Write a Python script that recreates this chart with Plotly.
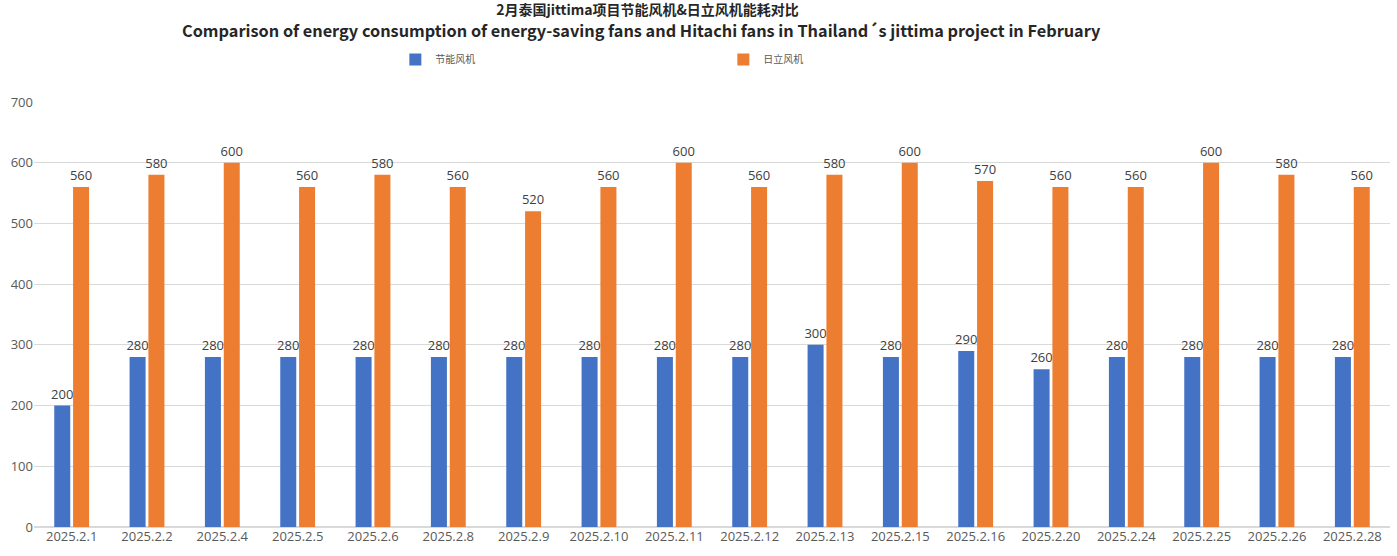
import plotly.graph_objects as go

dates = ["2025.2.1", "2025.2.2", "2025.2.4", "2025.2.5", "2025.2.6", "2025.2.8", "2025.2.9",
         "2025.2.10", "2025.2.11", "2025.2.12", "2025.2.13", "2025.2.15", "2025.2.16",
         "2025.2.20", "2025.2.24", "2025.2.25", "2025.2.26", "2025.2.28"]
saving = [200, 280, 280, 280, 280, 280, 280, 280, 280, 280, 300, 280, 290, 260, 280, 280, 280, 280]
hitachi = [560, 580, 600, 560, 580, 560, 520, 560, 600, 560, 580, 600, 570, 560, 560, 600, 580, 560]

series_names = ["节能风机", "日立风机"]
colors = ["#4472C4", "#ED7D31"]
title_cn = "2月泰国jittima项目节能风机&日立风机能耗对比"
title_en = "Comparison of energy consumption of energy-saving fans and Hitachi fans in Thailand\u00b4s jittima project in February"

font_family = "Open Sans, Noto Sans CJK SC, sans-serif"
title_font = "Noto Sans CJK SC, sans-serif"

fig = go.Figure()
for name, vals, col in zip(series_names, [saving, hitachi], colors):
    fig.add_trace(go.Bar(
        x=dates, y=vals, name=name, marker=dict(color=col, line=dict(width=0)),
        text=[str(v) for v in vals], textposition="outside", cliponaxis=False,
        constraintext="none",
        textfont=dict(size=13, color="#404040", family=font_family),
    ))

fig.update_layout(
    width=1397, height=556,
    margin=dict(l=34, r=7, t=102, b=29),
    paper_bgcolor="white", plot_bgcolor="white",
    barmode="group", bargap=0.5, bargroupgap=0.15,
    title=dict(
        text=title_cn,
        x=0.4635, xref="container", xanchor="center", y=1 - 10.5 / 556, yref="container", yanchor="middle",
        font=dict(size=14, color="#262626", family=title_font, weight="bold"),
        pad=dict(t=0, b=0),
    ),
    annotations=[dict(
        text=title_en, xref="paper", yref="paper", x=(641 - 34) / 1356, y=(527 - 30) / 425,
        xanchor="center", yanchor="middle", showarrow=False,
        font=dict(size=16.3, color="#262626", family=title_font, weight="bold"),
    )],
    legend=dict(
        orientation="h", x=0.283, xref="container", y=0.893, yref="container",
        xanchor="left", yanchor="middle", entrywidth=283, entrywidthmode="pixels",
        font=dict(size=10, color="#595959", family=title_font),
        bgcolor="rgba(0,0,0,0)",
    ),
    xaxis=dict(
        type="category", showgrid=False, showline=False, ticks="",
        tickfont=dict(size=13, color="#595959", family=font_family),
    ),
    yaxis=dict(
        range=[0, 700], dtick=100, showgrid=True, gridcolor="#d9d9d9", gridwidth=1,
        zeroline=True, zerolinecolor="#d9d9d9", zerolinewidth=2, showline=False, ticks="",
        tickfont=dict(size=13, color="#595959", family=font_family),
    ),
)

fig.write_html("out.html")
